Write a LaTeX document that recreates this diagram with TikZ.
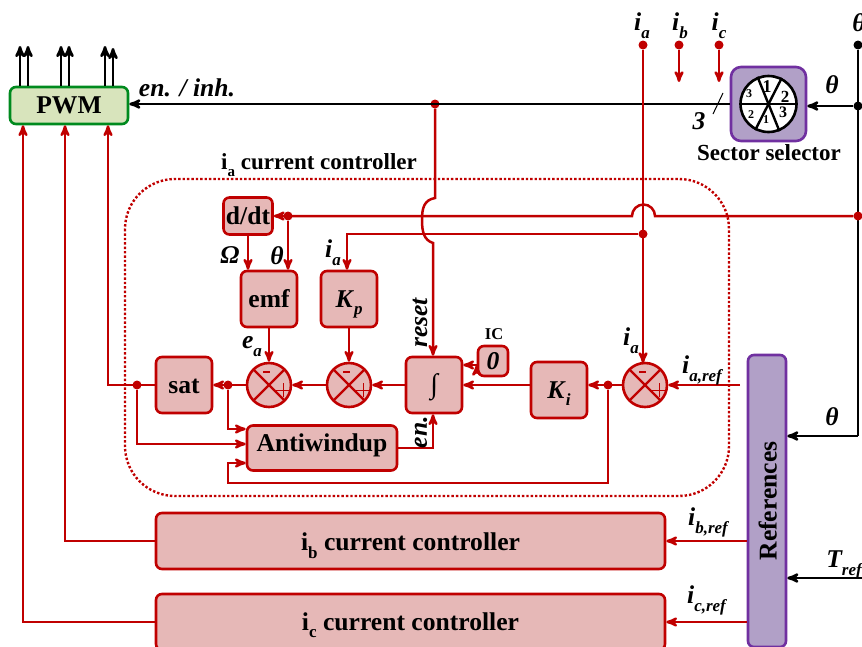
\documentclass[tikz,border=0pt]{standalone}
\usepackage{fontspec}
\setmainfont{Liberation Serif}
\usetikzlibrary{arrows,positioning,calc}
\definecolor{wirered}{HTML}{C00000}
\definecolor{blockfill}{HTML}{E6B8B7}
\definecolor{refpurple}{HTML}{7030A0}
\definecolor{reffill}{HTML}{B1A0C7}
\definecolor{pwmgreen}{HTML}{008A1E}
\definecolor{pwmfill}{HTML}{D8E4BC}
\newcommand{\fsz}[1]{\fontsize{#1}{#1}\selectfont}
\newcommand{\lowr}[1]{\raisebox{-.3em}[0pt][0pt]{#1}}
\newcommand{\sigl}[2]{\textit{#1}\lowr{\fsz{17}\textit{#2}}}
\tikzset{
  every node/.style={font=\fsz{25.6}\bfseries,inner sep=0pt},
  block/.style={
    draw=wirered,
    line width=2.6pt,
    fill=blockfill,
    rounded corners=6pt,
    minimum width=56pt,
    minimum height=56pt,
    text height=17pt,
    text depth=1pt
  },
  sumnode/.style={
    draw=wirered,
    line width=2.6pt,
    fill=blockfill,
    circle,
    minimum size=44pt,
    path picture={
      \draw[wirered,line width=2.2pt] (path picture bounding box.north west) -- (path picture bounding box.south east);
      \draw[wirered,line width=2.2pt] (path picture bounding box.north east) -- (path picture bounding box.south west);
      \draw[wirered,line width=.9pt] ($(path picture bounding box.center)+(7pt,-5pt)$) -- +(14pt,0pt);
      \draw[wirered,line width=.9pt] ($(path picture bounding box.center)+(14pt,-12pt)$) -- +(0pt,14pt);
      \draw[wirered,line width=2.4pt] ($(path picture bounding box.center)+(-6pt,13pt)$) -- +(7pt,0pt);
    }
  },
  junc/.style={circle,fill=wirered,minimum size=9pt},
  bjunc/.style={circle,fill=black,minimum size=9pt},
  wire/.style={draw=wirered,line width=2.5pt,>=stealth'},
  bwire/.style={draw=black,line width=2.6pt,>=stealth'},
  sig/.style={font=\fsz{25.6}\bfseries\itshape}
}
\begin{document}
\begin{tikzpicture}[x=1pt,y=-1pt,on grid]
      \useasboundingbox (0,0) rectangle (862,646);
      % inner loop of the a phase
      \node[block]                (sat)   at (184,385)                 {sat};
      \node[sumnode]              (sum_e) [right=85pt of sat]          {};
      \node[sumnode]              (sum_p) [right=80pt of sum_e]        {};
      \node[block]                (integ) [right=85pt of sum_p]        {\itshape\fsz{28}∫};
      \node[block]                (k_i)   [below right=5pt and 125pt of integ] {\sigl{K}{i}};
      \node[sumnode]              (sum_i) [right=211pt of integ]       {};
      \node[block]                (emf)   [above=86pt of sum_e]        {emf};
      \node[block]                (k_p)   [above=86pt of sum_p]        {\sigl{K}{p}};
      \node[block,minimum width=49pt,minimum height=37pt] (ddt) [above left=83pt and 21pt of emf] {d/dt};
      \node[block,minimum width=150pt,minimum height=45pt] (anti) [below right=63pt and 138pt of sat] {\raisebox{5pt}{Antiwindup}\hspace{9pt}};
      \node[block,minimum width=30pt,minimum height=30pt] (ic_0) [above right=24pt and 59pt of integ] {\textit{0}};
      % outer boxes
      \draw[wirered,line width=2.4pt,dash pattern=on 2.4pt off 2pt,rounded corners=50pt] (125,179) rectangle (729,496);
      \node[block,minimum width=509pt] (ctrl_b) at (410.5,541) {\raisebox{-1.5pt}{i\lowr{\fsz{17}b} current controller}};
      \node[block,minimum width=509pt] (ctrl_c) at (410.5,622) {i\lowr{\fsz{17}c} current controller};
      \node[block,draw=pwmgreen,fill=pwmfill,minimum width=118pt,minimum height=37pt] (pwm) at (69,105.5) {PWM};
      \node[block,draw=refpurple,fill=reffill,minimum width=75pt,minimum height=74pt,rounded corners=10pt] (sector) at (768.5,104) {};
      \node[block,draw=refpurple,fill=reffill,rotate=90,minimum width=292pt,minimum height=38pt] (refs) at (767,501) {\raisebox{-1.5pt}{References}};
      % sector wheel
      \node[circle,draw=black,line width=2.6pt,fill=white,minimum size=56pt] (wheel) at (sector.center) {};
      \draw[line width=2.4pt] (wheel.west) -- (wheel.east);
      \draw[line width=2.4pt] (wheel.112) -- (wheel.292);
      \draw[line width=2.4pt] (wheel.63) -- (wheel.243);
      \node[font=\fsz{18}\bfseries] (sec_a) at (767,87)  {1};
      \node[font=\fsz{17}\bfseries] (sec_b) at (785,97)  {2};
      \node[font=\fsz{16}\bfseries] (sec_c) at (783,112) {3};
      \node[font=\fsz{12}\bfseries] (sec_d) at (766,120) {1};
      \node[font=\fsz{12}\bfseries] (sec_e) at (751,115) {2};
      \node[font=\fsz{12}\bfseries] (sec_f) at (749,94)  {3};
      % junctions
      \node[junc]  (j_reset) at (435,104) {};
      \node[junc]  (j_ia)    at (643,45)  {};
      \node[junc]  (j_ib)    at (679,45)  {};
      \node[junc]  (j_ic)    at (719,45)  {};
      \node[junc]  (j_kp)    at (643,234) {};
      \node[junc]  (j_emf)   at (288,216) {};
      \node[junc]  (j_sum)   at (608,385) {};
      \node[junc]  (j_aw)    at (228,385) {};
      \node[junc]  (j_sat)   at (137,385) {};
      \node[bjunc] (j_th)    at (858,45)  {};
      \node[bjunc] (j_sec)   at (858,106) {};
      \coordinate (ib_end)  at (679,82);
      \coordinate (ic_end)  at (719,82);
      \coordinate (th_low)  at (858,436);
      \coordinate (tref_in) at (862,578);
      \coordinate (iref_in) at (740,385);
      % black lines
      \draw[bwire,->] (sector.west) -- (pwm.east |- sector.west);
      \draw[bwire] (j_th) -- (th_low);
      \draw[bwire,->] (th_low) -- (refs.south |- th_low);
      \draw[bwire,->] (j_sec) -- (sector.east |- j_sec);
      \draw[bwire,->] (tref_in) -- (refs.south |- tref_in);
      \draw[line width=1pt] (723,93) -- (713,114);
      \foreach \x/\top in {20/46,28/46,61/46,69/46,105/46,113/48}
        \draw[bwire,->] (pwm.north -| \x,0) -- (\x,\top);
      \node[junc]  (j_ddt)   at (858,216) {};
      % red lines
      \path[wire,->] (j_ib) edge (ib_end)
                     (j_ic) edge (ic_end)
                     (iref_in) edge (sum_i)
                     (sum_i) edge (k_i.east |- sum_i)
                     (k_i.west |- integ) edge (integ)
                     (ic_0.west |- 0,365) edge (integ.east |- 0,365)
                     (integ) edge (sum_p)
                     (sum_p) edge (sum_e)
                     (sum_e) edge (sat)
                     (k_p) edge (sum_p)
                     (emf) edge (sum_e)
                     (j_emf) edge (emf.north -| j_emf);
      \draw[wire,->] (j_ia) -- (643,363);
      \draw[wire,->] (ddt.south) -- (emf.north -| ddt.south);
      \draw[wire,->] (j_ddt) -- (655,216) arc[start angle=0,end angle=180,radius=11.5pt] -- (ddt.east);
      \draw[wire,->] (j_kp) -- (347,234) -- (k_p.north -| 347,0);
      \draw[wire,->] (j_reset) -- (435,198) .. controls (424,200) and (422,208) .. (422,220) .. controls (422,232) and (424,240) .. (433,243) -- (integ.north -| 433,0);
      \draw[wire,->] (anti.east) -- (anti.east -| 433,0) -- (integ.south -| 433,0);
      \draw[wire,->] (j_aw) |- (anti.west |- 0,429);
      \draw[wire,->] (j_sat) |- (anti.west |- 0,444);
      \draw[wire,->] (j_sum) |- (228,483) -- (228,463) -- (anti.west |- 0,463);
      \draw[wire,->] (sat.west) -- (108,385) -- (pwm.south -| 108,0);
      \draw[wire,->] (ctrl_b.west) -- (65,541) -- (pwm.south -| 65,0);
      \draw[wire,->] (ctrl_c.west) -- (23,622) -- (pwm.south -| 23,0);
      \draw[wire,->] (refs.north |- ctrl_b) -- (ctrl_b.east);
      \draw[wire,->] (refs.north |- ctrl_c) -- (ctrl_c.east);
      % labels
      \node[sig] (l_ia)  at (642,22)  {\sigl{i}{a}};
      \node[sig] (l_ib)  at (680,22)  {\sigl{i}{b}};
      \node[sig] (l_ic)  at (719,22)  {\sigl{i}{c}};
      \node[sig] (l_th)  at (859,23)  {θ};
      \node[sig] (l_ths) at (832,85)  {θ};
      \node[sig] (l_thr) at (832,417) {θ};
      \node[sig] (l_3)   at (699,121) {3};
      \node      (l_sec) at (769,153) {\fsz{23}Sector selector};
      \node[sig] (l_en)  at (187,88)  {en. / inh.};
      \node      (l_a)   at (319,162) {\fsz{23}i\lowr{\fsz{15}a} current controller};
      \node[sig] (l_om)  at (230,255) {Ω};
      \node[sig] (l_the) at (277,256) {θ};
      \node[sig] (l_iak) at (333,249) {\sigl{i}{a}};
      \node[sig] (l_ea)  at (252,343) {\sigl{e}{a}};
      \node[sig,rotate=90] (l_res) at (420,323) {reset};
      \node[sig,rotate=90] (l_ena) at (421,432) {en.};
      \node[font=\fsz{16.5}\bfseries] (l_ic0) at (494,334) {IC};
      \node[sig] (l_ias) at (631,337) {\sigl{i}{a}};
      \node[sig] (l_ira) at (702,365) {\sigl{i}{a,ref}};
      \node[sig] (l_irb) at (708,517) {\sigl{i}{b,ref}};
      \node[sig] (l_irc) at (706.5,595) {\sigl{i}{c,ref}};
      \node[sig] (l_tr)  at (844,559.5) {\sigl{T}{ref}};
    \end{tikzpicture}
\end{document}
